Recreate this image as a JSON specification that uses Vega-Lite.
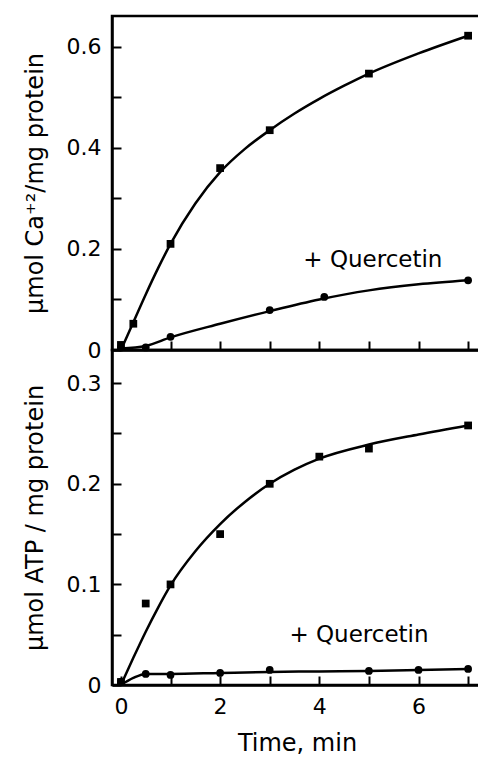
{
  "$schema": "https://vega.github.io/schema/vega-lite/v6.json",
  "padding": {"left": 21, "top": 14, "right": 0, "bottom": 0},
  "spacing": 0,
  "bounds": "flush",
  "config": {
    "view": {"stroke": "black", "strokeWidth": 2.5},
    "font": "DejaVu Sans",
    "concat": {"spacing": 0},
    "axis": {
      "domainColor": "black", "domainWidth": 2.5,
      "tickColor": "black", "tickWidth": 2, "tickSize": -9,
      "grid": false,
      "labelFont": "DejaVu Sans", "labelFontSize": 22, "labelColor": "black",
      "titleFont": "DejaVu Sans", "titleFontSize": 24, "titleFontWeight": "normal", "titleColor": "black"
    }
  },
  "datasets": {
    "caCurve": [
      {"t": 0, "v": 0, "series": "control"},
      {"t": 0.25, "v": 0.055, "series": "control"},
      {"t": 0.5, "v": 0.11, "series": "control"},
      {"t": 0.75, "v": 0.162, "series": "control"},
      {"t": 1, "v": 0.21, "series": "control"},
      {"t": 1.5, "v": 0.29, "series": "control"},
      {"t": 2, "v": 0.352, "series": "control"},
      {"t": 2.5, "v": 0.398, "series": "control"},
      {"t": 3, "v": 0.435, "series": "control"},
      {"t": 3.5, "v": 0.468, "series": "control"},
      {"t": 4, "v": 0.497, "series": "control"},
      {"t": 4.5, "v": 0.523, "series": "control"},
      {"t": 5, "v": 0.547, "series": "control"},
      {"t": 6, "v": 0.587, "series": "control"},
      {"t": 7, "v": 0.622, "series": "control"},
      {"t": 0, "v": 0.003, "series": "quercetin"},
      {"t": 0.5, "v": 0.008, "series": "quercetin"},
      {"t": 1, "v": 0.025, "series": "quercetin"},
      {"t": 2, "v": 0.052, "series": "quercetin"},
      {"t": 3, "v": 0.077, "series": "quercetin"},
      {"t": 4, "v": 0.1, "series": "quercetin"},
      {"t": 5, "v": 0.118, "series": "quercetin"},
      {"t": 6, "v": 0.13, "series": "quercetin"},
      {"t": 7, "v": 0.138, "series": "quercetin"}
    ],
    "caPoints": [
      {"t": 0, "v": 0.01, "series": "control"},
      {"t": 0.25, "v": 0.052, "series": "control"},
      {"t": 1, "v": 0.21, "series": "control"},
      {"t": 2, "v": 0.36, "series": "control"},
      {"t": 3, "v": 0.435, "series": "control"},
      {"t": 5, "v": 0.547, "series": "control"},
      {"t": 7, "v": 0.622, "series": "control"},
      {"t": 0, "v": 0.005, "series": "quercetin"},
      {"t": 0.5, "v": 0.005, "series": "quercetin"},
      {"t": 1, "v": 0.026, "series": "quercetin"},
      {"t": 3, "v": 0.079, "series": "quercetin"},
      {"t": 4.1, "v": 0.105, "series": "quercetin"},
      {"t": 7, "v": 0.138, "series": "quercetin"}
    ],
    "caLabel": [{"t": 5.08, "v": 0.178, "label": "+ Quercetin"}],
    "atpCurve": [
      {"t": 0, "v": 0, "series": "control"},
      {"t": 0.25, "v": 0.027, "series": "control"},
      {"t": 0.5, "v": 0.053, "series": "control"},
      {"t": 0.75, "v": 0.077, "series": "control"},
      {"t": 1, "v": 0.099, "series": "control"},
      {"t": 1.5, "v": 0.133, "series": "control"},
      {"t": 2, "v": 0.16, "series": "control"},
      {"t": 2.5, "v": 0.182, "series": "control"},
      {"t": 3, "v": 0.2, "series": "control"},
      {"t": 3.5, "v": 0.214, "series": "control"},
      {"t": 4, "v": 0.225, "series": "control"},
      {"t": 5, "v": 0.239, "series": "control"},
      {"t": 6, "v": 0.249, "series": "control"},
      {"t": 7, "v": 0.258, "series": "control"},
      {"t": 0, "v": 0, "series": "quercetin"},
      {"t": 0.25, "v": 0.007, "series": "quercetin"},
      {"t": 0.5, "v": 0.011, "series": "quercetin"},
      {"t": 1, "v": 0.011, "series": "quercetin"},
      {"t": 2, "v": 0.012, "series": "quercetin"},
      {"t": 3, "v": 0.013, "series": "quercetin"},
      {"t": 4, "v": 0.0135, "series": "quercetin"},
      {"t": 5, "v": 0.014, "series": "quercetin"},
      {"t": 6, "v": 0.015, "series": "quercetin"},
      {"t": 7, "v": 0.016, "series": "quercetin"}
    ],
    "atpPoints": [
      {"t": 0, "v": 0.003, "series": "control"},
      {"t": 0.5, "v": 0.081, "series": "control"},
      {"t": 1, "v": 0.1, "series": "control"},
      {"t": 2, "v": 0.15, "series": "control"},
      {"t": 3, "v": 0.2, "series": "control"},
      {"t": 4, "v": 0.227, "series": "control"},
      {"t": 5, "v": 0.235, "series": "control"},
      {"t": 7, "v": 0.258, "series": "control"},
      {"t": 0, "v": 0.003, "series": "quercetin"},
      {"t": 0.5, "v": 0.011, "series": "quercetin"},
      {"t": 1, "v": 0.01, "series": "quercetin"},
      {"t": 2, "v": 0.012, "series": "quercetin"},
      {"t": 3, "v": 0.015, "series": "quercetin"},
      {"t": 5, "v": 0.014, "series": "quercetin"},
      {"t": 6, "v": 0.015, "series": "quercetin"},
      {"t": 7, "v": 0.016, "series": "quercetin"}
    ],
    "atpLabel": [{"t": 4.8, "v": 0.05, "label": "+ Quercetin"}]
  },
  "vconcat": [
    {
      "width": 370,
      "height": 334,
      "layer": [
        {
          "data": {"name": "caCurve"},
          "mark": {"type": "line", "interpolate": "monotone", "color": "black", "strokeWidth": 2.5},
          "encoding": {
            "x": {"field": "t", "type": "quantitative", "scale": {"domain": [-0.18, 7.28], "nice": false, "zero": false},
                  "axis": {"values": [0, 1, 2, 3, 4, 5, 6, 7], "labels": false, "title": null}},
            "y": {"field": "v", "type": "quantitative", "scale": {"domain": [0, 0.661], "nice": false},
                  "axis": {"values": [0, 0.1, 0.2, 0.3, 0.4, 0.5, 0.6],
                           "labelExpr": "datum.value == 0 ? '0' : (round(datum.value * 10) % 2 == 0 ? format(datum.value, '.1f') : '')",
                           "title": "μmol   Ca⁺²/mg protein", "labelPadding": 20, "titlePadding": 19}},
            "detail": {"field": "series"}
          }
        },
        {
          "data": {"name": "caPoints"},
          "mark": {"type": "point", "filled": true, "color": "black", "opacity": 1, "size": 60},
          "encoding": {
            "x": {"field": "t", "type": "quantitative"},
            "y": {"field": "v", "type": "quantitative"},
            "shape": {"field": "series", "type": "nominal", "scale": {"domain": ["control", "quercetin"], "range": ["square", "circle"]}, "legend": null}
          }
        },
        {
          "data": {"name": "caLabel"},
          "mark": {"type": "text", "font": "DejaVu Sans", "fontSize": 23, "color": "black", "align": "center", "baseline": "middle"},
          "encoding": {
            "x": {"field": "t", "type": "quantitative"},
            "y": {"field": "v", "type": "quantitative"},
            "text": {"field": "label"}
          }
        }
      ]
    },
    {
      "width": 370,
      "height": 335,
      "layer": [
        {
          "data": {"name": "atpCurve"},
          "mark": {"type": "line", "interpolate": "monotone", "color": "black", "strokeWidth": 2.5},
          "encoding": {
            "x": {"field": "t", "type": "quantitative", "scale": {"domain": [-0.18, 7.28], "nice": false, "zero": false},
                  "axis": {"values": [0, 1, 2, 3, 4, 5, 6, 7], "labelExpr": "datum.value % 2 == 0 ? datum.label : ''",
                           "title": "Time, min", "labelPadding": 20, "titlePadding": 14}},
            "y": {"field": "v", "type": "quantitative", "scale": {"domain": [0, 0.333], "nice": false},
                  "axis": {"values": [0, 0.05, 0.1, 0.15, 0.2, 0.25, 0.3],
                           "labelExpr": "datum.value == 0 ? '0' : (round(datum.value * 100) % 10 == 0 ? format(datum.value, '.1f') : '')",
                           "title": "μmol  ATP / mg protein", "labelPadding": 20, "titlePadding": 19}},
            "detail": {"field": "series"}
          }
        },
        {
          "data": {"name": "atpPoints"},
          "mark": {"type": "point", "filled": true, "color": "black", "opacity": 1, "size": 60},
          "encoding": {
            "x": {"field": "t", "type": "quantitative"},
            "y": {"field": "v", "type": "quantitative"},
            "shape": {"field": "series", "type": "nominal", "scale": {"domain": ["control", "quercetin"], "range": ["square", "circle"]}, "legend": null}
          }
        },
        {
          "data": {"name": "atpLabel"},
          "mark": {"type": "text", "font": "DejaVu Sans", "fontSize": 23, "color": "black", "align": "center", "baseline": "middle"},
          "encoding": {
            "x": {"field": "t", "type": "quantitative"},
            "y": {"field": "v", "type": "quantitative"},
            "text": {"field": "label"}
          }
        }
      ]
    }
  ]
}
